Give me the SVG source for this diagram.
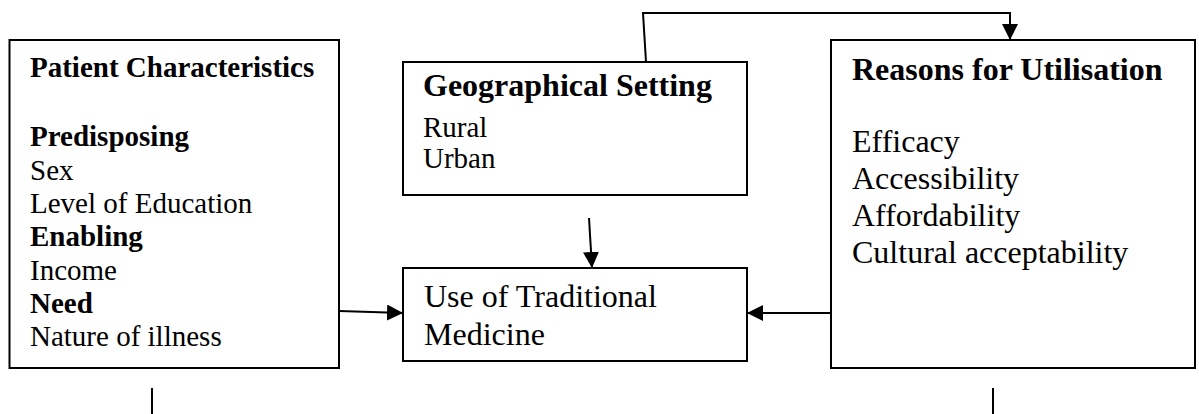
<svg xmlns="http://www.w3.org/2000/svg" width="1199" height="414" viewBox="0 0 1199 414">
<style>
.box{fill:#fff;stroke:#000;stroke-width:2}
.t{font-family:"Liberation Serif","Times New Roman",serif;fill:#000}
.s29{font-size:29px}
.s32{font-size:32px}
.b{font-weight:bold}
.c{fill:none;stroke:#000;stroke-width:2}
</style>
<defs>
<marker id="ah" markerUnits="userSpaceOnUse" markerWidth="16" markerHeight="16" refX="16" refY="8" orient="auto">
<path d="M0,0 L16,8 L0,16 Z" fill="#000"/>
</marker>
</defs>
<g id="patient">
<rect class="box" x="9.5" y="40" width="329.5" height="328"/>
<text class="t s29 b" x="30" y="77">Patient Characteristics</text>
<text class="t s29 b" x="30" y="146">Predisposing</text>
<text class="t s29" x="30" y="180">Sex</text>
<text class="t s29" x="30" y="213">Level of Education</text>
<text class="t s29 b" x="30" y="246">Enabling</text>
<text class="t s29" x="30" y="280">Income</text>
<text class="t s29 b" x="30" y="313">Need</text>
<text class="t s29" x="30" y="346">Nature of illness</text>
</g>
<g id="geo">
<rect class="box" x="403" y="62" width="344" height="133"/>
<text class="t s32 b" x="423" y="96">Geographical Setting</text>
<text class="t s29" x="423" y="137">Rural</text>
<text class="t s29" x="423" y="168">Urban</text>
</g>
<g id="reasons">
<rect class="box" x="831" y="40" width="364" height="328"/>
<text class="t s32 b" x="852" y="80">Reasons for Utilisation</text>
<text class="t s32" x="852" y="152">Efficacy</text>
<text class="t s32" x="852" y="189">Accessibility</text>
<text class="t s32" x="852" y="226">Affordability</text>
<text class="t s32" x="852" y="263">Cultural acceptability</text>
</g>
<g id="usetm">
<rect class="box" x="403" y="268" width="344" height="93"/>
<text class="t s32" x="424" y="307">Use of Traditional</text>
<text class="t s32" x="424" y="345">Medicine</text>
</g>
<g id="connectors">
<line class="c" x1="339" y1="311" x2="403" y2="313" marker-end="url(#ah)"/>
<line class="c" x1="831" y1="313" x2="747" y2="313" marker-end="url(#ah)"/>
<line class="c" x1="589" y1="218" x2="592" y2="268" marker-end="url(#ah)"/>
<polyline class="c" points="646,62 643,13 1010,13 1010,40" marker-end="url(#ah)"/>
<line class="c" x1="152" y1="388" x2="152" y2="414"/>
<line class="c" x1="993" y1="388" x2="993" y2="414"/>
</g>
</svg>
